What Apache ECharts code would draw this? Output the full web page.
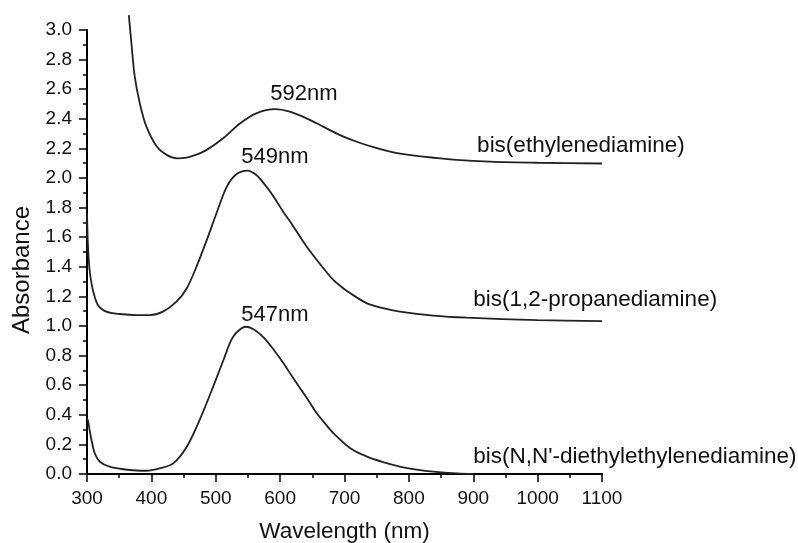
<!DOCTYPE html>
<html>
<head>
<meta charset="utf-8">
<script src="https://cdn.jsdelivr.net/npm/echarts@6/dist/echarts.min.js"></script>
<style>html,body{margin:0;padding:0;background:#fff;}#c{width:798px;height:543px;}</style>
</head>
<body>
<div id="c"></div>
<script>
// Wavelength (nm), absorbance pairs
var ethylenediamine = [[365,3.10],[369,2.91],[374,2.69],[382,2.505],[392,2.35],[408,2.215],[423,2.158],[440,2.133],[455,2.138],[470,2.158],[486,2.19],[512,2.27],[538,2.37],[563,2.437],[592,2.465],[615,2.448],[641,2.403],[667,2.347],[693,2.29],[719,2.245],[745,2.208],[771,2.178],[797,2.158],[822,2.144],[874,2.122],[926,2.11],[1000,2.103],[1100,2.098]];
var propanediamine = [[300,1.76],[301,1.6],[302,1.5],[304,1.38],[309,1.245],[317,1.142],[330,1.097],[351,1.081],[377,1.074],[398,1.074],[418,1.097],[439,1.164],[455,1.255],[470,1.40],[486,1.58],[501,1.76],[517,1.94],[532,2.025],[549,2.05],[563,2.02],[579,1.94],[592,1.86],[605,1.77],[618,1.69],[631,1.603],[644,1.52],[657,1.446],[670,1.375],[683,1.31],[696,1.262],[709,1.221],[735,1.153],[760,1.12],[786,1.097],[838,1.07],[890,1.056],[1000,1.04],[1100,1.033]];
var diethylethylenediamine = [[300,0.38],[302,0.35],[304,0.30],[307,0.23],[312,0.14],[320,0.083],[335,0.05],[366,0.027],[392,0.022],[413,0.038],[434,0.072],[455,0.184],[475,0.365],[496,0.59],[512,0.77],[527,0.928],[547,0.995],[560,0.975],[575,0.92],[590,0.84],[605,0.75],[620,0.65],[631,0.58],[645,0.49],[657,0.41],[670,0.34],[683,0.275],[709,0.174],[735,0.117],[760,0.08],[786,0.05],[812,0.03],[838,0.016],[875,0.004],[900,0]];

var seriesNames = ['bis(ethylenediamine)', 'bis(1,2-propanediamine)', "bis(N,N'-diethylethylenediamine)"];
var peakLabels = ['592nm', '549nm', '547nm'];
// label anchors in data coordinates [wavelength, absorbance]
var peakLabelAt = [[637, 2.57], [592, 2.142], [592, 1.074]];
var nameLabelAt = [[906, 2.22], [900, 1.176], [900, 0.115]];

var xTicks = {min: 300, max: 1100, interval: 100};
var yTicks = {min: 0, max: 3.0, interval: 0.2};

var FONT = 'Liberation Sans, Arial, Helvetica, sans-serif';
var INK = '#111';
var datasets = [ethylenediamine, propanediamine, diethylethylenediamine];

var series = datasets.map(function (d, i) {
  return {
    name: seriesNames[i],
    type: 'line',
    data: d,
    smooth: 0.3,
    showSymbol: false,
    clip: false,
    lineStyle: {color: '#222', width: 1.8},
    markPoint: {
      symbol: 'circle',
      symbolSize: 0,
      silent: true,
      data: [
        {coord: peakLabelAt[i], label: {show: true, position: 'inside', formatter: peakLabels[i], fontSize: 22, color: INK, fontFamily: FONT}},
        {coord: nameLabelAt[i], label: {show: true, position: 'right', distance: 0, formatter: seriesNames[i], fontSize: 22.5, color: INK, fontFamily: FONT}}
      ]
    }
  };
});

var chart = echarts.init(document.getElementById('c'), null, {renderer: 'canvas'});
chart.setOption({
  backgroundColor: '#ffffff',
  animation: false,
  grid: {left: 87, right: 196, top: 30, bottom: 69, containLabel: false, outerBoundsMode: 'none'},
  xAxis: {
    type: 'value',
    min: xTicks.min, max: xTicks.max, interval: xTicks.interval,
    name: 'Wavelength (nm)', nameLocation: 'middle', nameGap: 46,
    nameTextStyle: {fontSize: 22.5, color: INK, fontFamily: FONT},
    axisLine: {show: true, onZero: false, lineStyle: {color: '#000', width: 2}},
    axisTick: {show: true, length: 8, lineStyle: {color: '#000', width: 1.5}},
    minorTick: {show: true, splitNumber: 2, length: 4, lineStyle: {color: '#000', width: 1.5}},
    axisLabel: {fontSize: 19, color: INK, fontFamily: FONT, margin: 15, formatter: function (v) { return String(v); }},
    splitLine: {show: false}
  },
  yAxis: {
    type: 'value',
    min: yTicks.min, max: yTicks.max, interval: yTicks.interval,
    name: 'Absorbance', nameLocation: 'middle', nameGap: 53, nameRotate: 90,
    nameTextStyle: {fontSize: 24, color: INK, fontFamily: FONT, padding: [0, 36, 0, 0]},
    axisLine: {show: true, onZero: false, lineStyle: {color: '#000', width: 2}},
    axisTick: {show: true, length: 8, lineStyle: {color: '#000', width: 1.5}},
    minorTick: {show: true, splitNumber: 2, length: 4, lineStyle: {color: '#000', width: 1.5}},
    axisLabel: {fontSize: 19, color: INK, fontFamily: FONT, margin: 15, formatter: function (v) { return v.toFixed(1); }},
    splitLine: {show: false}
  },
  series: series
});
</script>
</body>
</html>
